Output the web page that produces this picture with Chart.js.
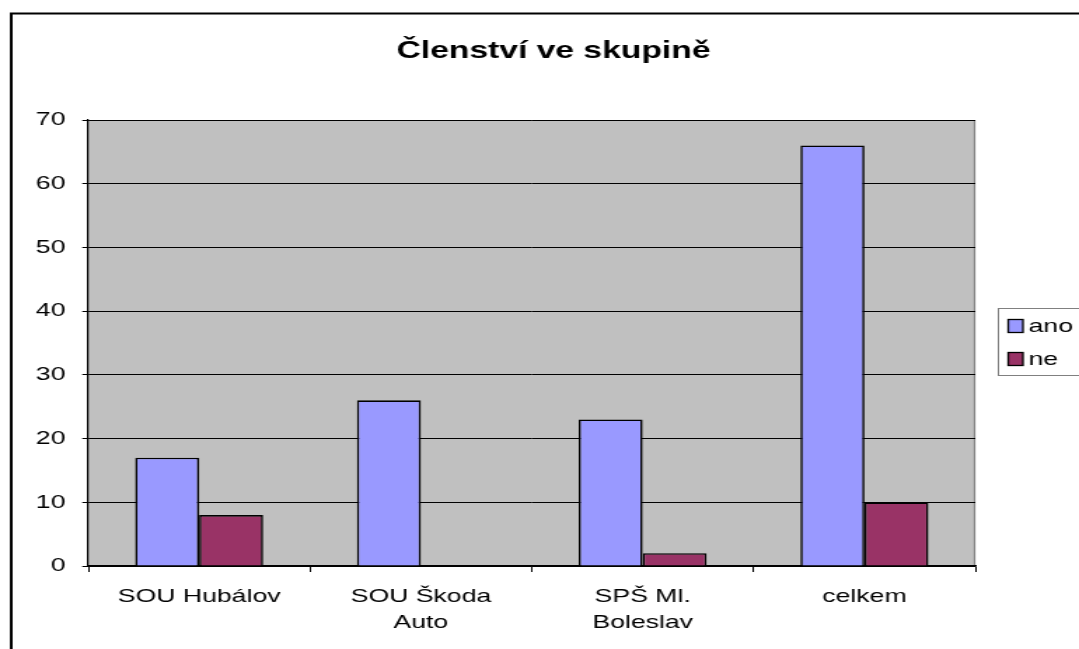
<!DOCTYPE html>
<html>
<head>
<meta charset="utf-8">
<script src="https://cdn.jsdelivr.net/npm/chart.js@4/dist/chart.umd.min.js"></script>
<style>
  html, body { margin: 0; padding: 0; background: #fff; overflow: hidden; }
  /* the original picture is stretched sideways, so the canvas is drawn narrower and widened by CSS */
  #chart { display: block; width: 1079px; height: 649px; }
</style>
</head>
<body>
<canvas id="chart" width="770" height="649" style="width:1079px;height:649px"></canvas>
<script>
(function(){
    "use strict";

    const chartTitle = 'Členství ve skupině';
    const categories = [['SOU Hubálov'], ['SOU Škoda', 'Auto'], ['SPŠ Ml.', 'Boleslav'], ['celkem']];
    const seriesNames = ['ano', 'ne'];
    const anoValues = [17, 26, 23, 66];
    const neValues = [8, 0, 2, 10];
    const yTicks = [0, 10, 20, 30, 40, 50, 60, 70];

    const font = 'Arial, "Liberation Sans", sans-serif';

    // background, frame, title and legend box drawn around the chart area
    const decor = {
        id: 'decor',
        beforeDraw(chart) {
            const ctx = chart.ctx;
            const a = chart.chartArea;
            ctx.save();
            ctx.fillStyle = '#fff';
            ctx.fillRect(0, 0, chart.width, chart.height);
            ctx.fillStyle = '#c0c0c0';
            ctx.fillRect(a.left, a.top, a.right - a.left, a.bottom - a.top);
            ctx.strokeStyle = '#808080';
            ctx.lineWidth = 1.2;
            ctx.beginPath();
            ctx.moveTo(a.left, a.top + 0.5);
            ctx.lineTo(a.right - 0.5, a.top + 0.5);
            ctx.lineTo(a.right - 0.5, a.bottom);
            ctx.stroke();
            ctx.restore();
        },
        afterDraw(chart) {
            const ctx = chart.ctx;
            ctx.save();
            // outer frame
            ctx.strokeStyle = '#000';
            ctx.lineWidth = 2;
            ctx.strokeRect(8, 13.5, 900, 700);
            // title
            ctx.fillStyle = '#000';
            ctx.font = 'bold 24px ' + font;
            ctx.textAlign = 'center';
            ctx.textBaseline = 'middle';
            ctx.fillText(chartTitle, 395, 51);
            // legend
            ctx.strokeStyle = '#808080';
            ctx.lineWidth = 1;
            ctx.strokeRect(712.5, 308.5, 100, 67);
            ctx.font = '19px ' + font;
            ctx.textAlign = 'left';
            chart.data.datasets.forEach((ds, i) => {
                const y = 326 + i * 33;
                ctx.fillStyle = ds.backgroundColor;
                ctx.fillRect(719.5, y - 6.5, 10.5, 13);
                ctx.strokeStyle = '#000';
                ctx.lineWidth = 1.3;
                ctx.strokeRect(719.5, y - 6.5, 10.5, 13);
                ctx.fillStyle = '#000';
                ctx.fillText(ds.label, 734, y + 1);
            });
            ctx.restore();
        }
    };

    new Chart(document.getElementById('chart'), {
        type: 'bar',
        data: {
            labels: categories,
            datasets: [
                {
                    label: seriesNames[0],
                    data: anoValues,
                    backgroundColor: '#9999ff',
                    borderColor: '#000',
                    borderWidth: 1.6,
                    borderSkipped: 'bottom'
                }, {
                    label: seriesNames[1],
                    data: neValues,
                    backgroundColor: '#993366',
                    borderColor: '#000',
                    borderWidth: 1.6,
                    borderSkipped: 'bottom'
                }
            ]
        },
        options: {
            responsive: false,
            animation: false,
            devicePixelRatio: 1,
            layout: { padding: { top: 120, right: 74, left: 0, bottom: 0 } },
            datasets: { bar: { categoryPercentage: 0.577, barPercentage: 1.0 } },
            scales: {
                x: {
                    offset: true,
                    grid: {
                        offset: true,
                        drawOnChartArea: false,
                        drawTicks: true,
                        tickLength: 6,
                        color: '#000'
                    },
                    border: { color: '#000', width: 1.5 },
                    ticks: {
                        color: '#000',
                        font: { family: font, size: 19, lineHeight: 1.35 },
                        padding: 12,
                        maxRotation: 0,
                        autoSkip: false
                    },
                    afterFit(s) { s.height = 83; }
                },
                y: {
                    min: 0,
                    max: 70,
                    afterBuildTicks(s) { s.ticks = yTicks.map(v => ({ value: v })); },
                    grid: {
                        color: '#000',
                        lineWidth: 1,
                        tickLength: 4.3
                    },
                    border: { color: '#000', width: 1.2 },
                    ticks: {
                        color: '#000',
                        font: { family: font, size: 19 },
                        padding: 12
                    },
                    afterFit(s) { s.width = 63; }
                }
            },
            plugins: {
                legend: { display: false },
                title: { display: false },
                tooltip: { enabled: false }
            }
        },
        plugins: [decor]
    });
})();
</script>
</body>
</html>
